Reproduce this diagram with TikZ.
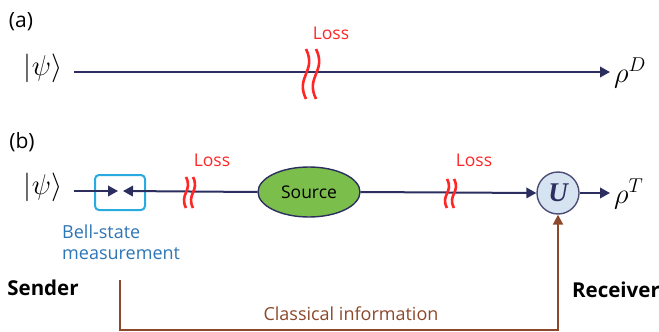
\documentclass[tikz,border=0pt]{standalone}
\usepackage{fix-cm}
\usepackage{graphicx}
\usepackage{fontspec}
\setmainfont{Open Sans}
\newfontfamily\serifU{Liberation Serif}
\usetikzlibrary{arrows.meta,shapes.geometric}
\definecolor{navy}{RGB}{43,46,94}
\definecolor{lossred}{RGB}{255,38,38}
\definecolor{bsmcyan}{RGB}{41,171,226}
\definecolor{bsmblue}{RGB}{46,117,182}
\definecolor{srcgreen}{RGB}{124,190,76}
\definecolor{ufill}{RGB}{214,227,240}
\definecolor{cbrown}{RGB}{140,72,42}
\newcommand{\fsz}[1]{\fontsize{#1}{24}\selectfont}
\newcommand{\squig}[4]{% x, top, bottom, bulge
  \draw[lossstroke] (#1,#2) .. controls ({#1+#4},{#2+0.45*(#3-#2)}) and ({#1-#4},{#3-0.45*(#3-#2)}) .. (#1,#3);}
\begin{document}
\begin{tikzpicture}[x=1pt,y=-1pt,
  qline/.style={draw=navy,line width=2pt},
  tipn/.style={-{Triangle[length=10pt,width=10.5pt]}},
  lossstroke/.style={draw=lossred,line width=2.6pt},
  losstext/.style={text=lossred,font=\fsz{17.5}},
  math/.style={font=\fsz{22},inner sep=0pt},
  side/.style={font=\fsz{20.5}\bfseries,inner sep=0pt},
  panel/.style={font=\fsz{21},inner sep=0pt}]
\useasboundingbox (0,0) rectangle (659,332);

% panel (a)
\node[panel] (la) at (21,22) {(a)};
\node[math] (ketA) at (43,68) {\scalebox{1.3}{$\Bigl|\psi\Bigr\rangle$}};
\coordinate (aS) at (74,72);
\coordinate (aE) at (610,72);
\node[math,anchor=west] (rhoA) at (614,73) {\scalebox{1.3}{$\rho^{D}$}};
\draw[qline,tipn] (aS) -- (aE);
\squig{306}{49}{99}{11}
\squig{316}{49}{99}{11}
\node[losstext] (lossA) at (331,33) {Loss};

% panel (b)
\node[panel] (lb) at (22,142) {(b)};
\node[math] (ketB) at (43,187) {\scalebox{1.3}{$\Bigl|\psi\Bigr\rangle$}};
\coordinate (bS) at (74,191);
\node[draw=bsmcyan,line width=2pt,rounded corners=4pt,minimum width=50pt,minimum height=35pt] (bsm) at (120,192.5) {};
\coordinate (bL) at (118,191);
\coordinate (bR) at (123,191);
\node[ellipse,draw=navy,line width=1.4pt,fill=srcgreen,minimum width=102pt,minimum height=50pt,font=\fsz{17.5}] (src) at (309,192) {Source};
\node[circle,draw=navy!85,line width=1.4pt,fill=ufill,minimum size=42pt,inner sep=0pt,font=\fsz{27}\serifU\bfseries\itshape,text=navy] (U) at (558,193) {U};
\coordinate (bE) at (610,193);
\node[math,anchor=west] (rhoT) at (614,194) {\scalebox{1.3}{$\rho^{T}$}};

\draw[qline,tipn] (bS) -- (bL);
\draw[qline,tipn] (src.west) -- (bR);
\draw[qline,tipn] (src.east) -- (U.west);
\draw[qline,tipn] (U.east) -- (bE);

\squig{186}{177}{208}{7}
\squig{193}{177}{208}{7}
\squig{447}{179}{208}{7}
\squig{454}{179}{208}{7}
\node[losstext] (lossB1) at (212,160) {Loss};
\node[losstext] (lossB2) at (474,160) {Loss};

\node[anchor=north west,align=left,text=bsmblue,font=\fontsize{18}{21}\selectfont,inner sep=0pt] (bsmtext) at (62,225) {Bell-state\\measurement};

\node[side] (sender) at (43,288) {Sender};
\node[side] (receiver) at (616,290) {Receiver};

\coordinate (cS) at (120,280);
\coordinate (cB1) at (120,330);
\coordinate (cB2) at (558,330);
\draw[draw=cbrown,line width=2pt,-{Triangle[length=10pt,width=10pt]}] (cS) -- (cB1) -- (cB2) -- (U.south);
\node[text=cbrown,font=\fsz{18}] (classical) at (351,314) {Classical information};
\end{tikzpicture}
\end{document}
